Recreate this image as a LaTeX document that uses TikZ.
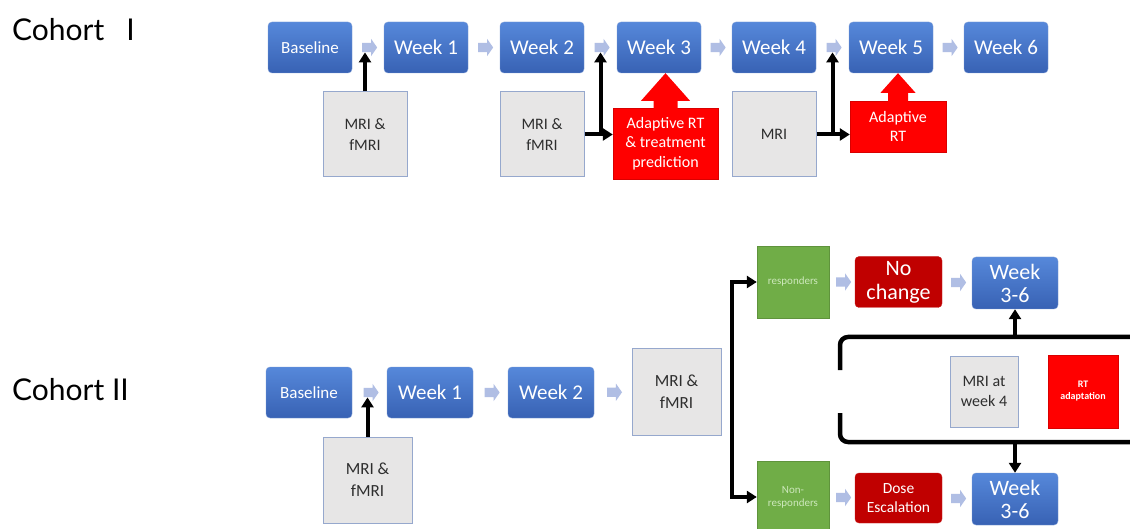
\documentclass[tikz,border=0pt]{standalone}
\usepackage{fontspec}
\setmainfont{Carlito}
\newfontfamily\headfont{Lato}
\usetikzlibrary{arrows.meta,shapes.arrows,calc}
\definecolor{wkblue}{RGB}{68,114,196}
\definecolor{wktop}{RGB}{86,136,218}
\definecolor{wkbot}{RGB}{56,98,180}
\definecolor{scangray}{RGB}{231,230,230}
\definecolor{scanedge}{RGB}{150,168,205}
\definecolor{rtred}{RGB}{255,0,0}
\definecolor{darkred}{RGB}{192,0,0}
\definecolor{grpgreen}{RGB}{112,173,71}
\definecolor{paletext}{RGB}{205,232,188}
\definecolor{flowarr}{RGB}{176,190,228}
\tikzset{
  week/.style={rectangle,rounded corners=4pt,top color=wktop,bottom color=wkbot,draw=wkblue!70!white,
    text=white,minimum width=84pt,minimum height=51pt,inner sep=1pt,align=center,
    font=\fontsize{21}{22}\selectfont},
  scan/.style={rectangle,fill=scangray,draw=scanedge,line width=1pt,text=black!82,
    minimum width=84pt,minimum height=85pt,align=center,font=\fontsize{16}{21}\selectfont},
  adapt/.style={rectangle,fill=rtred,draw=red!85!black,text=white,inner sep=1pt,align=center,
    font=\fontsize{16}{19.5}\selectfont},
  plan/.style={rectangle,rounded corners=4pt,fill=darkred,draw=darkred!85!white,text=white,
    minimum width=87pt,minimum height=51pt,inner sep=1pt,align=center},
  group/.style={rectangle,fill=grpgreen,draw=grpgreen!85!black,text=paletext,minimum width=72pt,
    minimum height=72pt,inner sep=1pt,align=center,font=\fontsize{11}{13}\selectfont},
  flow/.style={single arrow,fill=flowarr,inner sep=4.5pt,minimum height=15pt,
    single arrow head extend=4pt,single arrow tip angle=110},
  blk/.style={line width=4pt,-{Triangle[length=10pt,width=12pt]}},
  brace/.style={line width=4.5pt,rounded corners=8pt}
}
\begin{document}
\begin{tikzpicture}[x=1pt,y=-1pt]
\useasboundingbox (0,0) rectangle (1130,529);
\fill[white] (0,0) rectangle (1130,529);
\node[anchor=west,inner sep=0pt,font=\headfont\fontsize{30}{32}\selectfont] (coh1) at (12,30) {Cohort\hspace{22pt}I};
\node[anchor=west,inner sep=0pt,font=\headfont\fontsize{30}{32}\selectfont] (coh2) at (12,390) {Cohort II};
\node[week,font=\fontsize{17}{20}\selectfont] (base1) at (310,47.5) {Baseline};
\node[week] (wk1) at (426,47.5) {Week 1};
\node[week] (wk2) at (542,47.5) {Week 2};
\node[week] (wk3) at (659,47.5) {Week 3};
\node[week] (wk4) at (774,47.5) {Week 4};
\node[week] (wk5) at (891,47.5) {Week 5};
\node[week] (wk6) at (1006,47.5) {Week 6};
\foreach \a/\b/\n in {base1/wk1/f01,wk1/wk2/f12,wk2/wk3/f23,wk3/wk4/f34,wk4/wk5/f45,wk5/wk6/f56}
  \node[flow] (\n) at ($(\a.east)!.5!(\b.west)$) {};
\node[scan] (mri1) at (365,134.5) {MRI \&\\fMRI};
\node[scan] (mri2) at (542,134.5) {MRI \&\\fMRI};
\node[scan] (mri3) at (774,134.5) {MRI};
\node[adapt,minimum width=105pt,minimum height=71pt] (rt1) at (665.5,143.5) {Adaptive RT\\\& treatment\\prediction};
\node[adapt,minimum width=96pt,minimum height=51pt] (rt2) at (898,126.5) {Adaptive\\RT};
\fill[rtred] ($(rt1.north)+(-12,1)$) -- ++(0,-8) -- ++(-12.5,0) -- (rt1.north |- wk3.south)
  -- ($(rt1.north)+(24.5,-7)$) -- ++(-12.5,0) -- ++(0,8) -- cycle;
\fill[rtred] ($(rt2.north)+(-10,1)$) -- ++(0,-9) -- ++(-7.5,0) -- (rt2.north |- wk5.south)
  -- ($(rt2.north)+(17.5,-8)$) -- ++(-7.5,0) -- ++(0,9) -- cycle;
\draw[blk] (mri1.north) -- (mri1.north |- f01.south);
\draw[blk] (mri2.east) -- (mri2.east -| rt1.west);
\draw[blk] (mri2.east -| f23) -- (f23.south);
\draw[blk] (mri3.east) -- (mri3.east -| rt2.west);
\draw[blk] (mri3.east -| f45) -- (f45.south);
\node[week,font=\fontsize{17}{20}\selectfont,minimum width=86pt] (base2) at (309,392.5) {Baseline};
\node[week,minimum width=86pt] (wk21) at (430,392.5) {Week 1};
\node[week,minimum width=86pt] (wk22) at (551,392.5) {Week 2};
\node[scan,minimum width=89pt,minimum height=86pt,font=\fontsize{17}{22}\selectfont] (mri5) at (676.5,392) {MRI \&\\fMRI};
\node[scan,minimum width=89pt,minimum height=86pt,font=\fontsize{17}{22}\selectfont] (mri4) at (367.5,480) {MRI \&\\fMRI};
\foreach \a/\b/\n in {base2/wk21/g01,wk21/wk22/g12,wk22/mri5/g23}
  \node[flow] (\n) at ($(\a.east)!.5!(\b.west)$) {};
\draw[blk] (mri4.north) -- (mri4.north |- g01.south);
\node[group] (resp) at (793,282) {responders};
\node[group] (nonresp) at (793,497) {Non-\\responders};
\node[plan,font=\fontsize{22}{24}\selectfont] (nochg) at (898.5,282) {No\\change};
\node[plan,minimum height=50pt,font=\fontsize{15.5}{19}\selectfont] (dose) at (898.5,498) {Dose\\Escalation};
\node[week,minimum width=86pt,minimum height=52pt,font=\fontsize{22}{23}\selectfont] (wk36a) at (1015,283) {Week\\3-6};
\node[week,minimum width=86pt,minimum height=52pt,font=\fontsize{22}{23}\selectfont] (wk36b) at (1015,499) {Week\\3-6};
\foreach \a/\b/\n in {resp/nochg/h1,nochg/wk36a/h2,nonresp/dose/h3,dose/wk36b/h4}
  \node[flow] (\n) at ($(\a.east)!.5!(\b.west)$) {};
\coordinate (split) at (732,392);
\draw[blk] (split) |- (resp.west);
\draw[blk] (split) |- (nonresp.west);
\draw[brace] (1140,337) -- (840,337) -- (840,370);
\draw[brace] (840,413) -- (840,442) -- (1140,442);
\coordinate (brtop) at (1015,337);
\coordinate (brbot) at (1015,442);
\draw[blk] (brtop) -- (wk36a.south);
\draw[blk] (brbot) -- (wk36b.north);
\node[scan,minimum width=68pt,minimum height=71pt,font=\fontsize{16}{20}\selectfont] (mri6) at (984,391.5) {MRI at\\week 4};
\node[adapt,minimum width=70pt,minimum height=73pt,font=\bfseries\fontsize{10}{12}\selectfont] (rtadp) at (1083,391.5) {RT\\adaptation};
\end{tikzpicture}
\end{document}
